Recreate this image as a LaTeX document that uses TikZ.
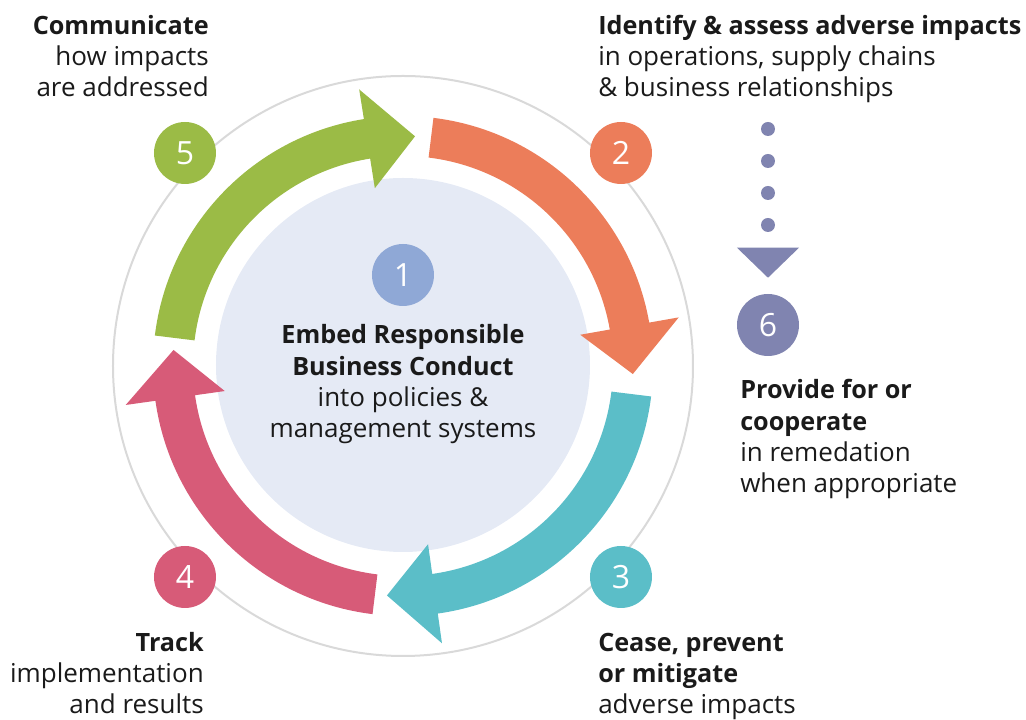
\documentclass[tikz,border=0pt]{standalone}
\usepackage{fontspec}
\setmainfont{Open Sans}
\usetikzlibrary{arrows.meta,calc,positioning}
\definecolor{stepgreen}{RGB}{155,187,70}
\definecolor{steporange}{RGB}{236,125,90}
\definecolor{stepteal}{RGB}{91,190,200}
\definecolor{steppink}{RGB}{215,91,120}
\definecolor{stepblue}{RGB}{143,168,214}
\definecolor{steppurple}{RGB}{128,132,176}
\definecolor{corefill}{RGB}{229,234,245}
\definecolor{ringgray}{RGB}{217,217,217}
\definecolor{textblack}{RGB}{26,26,26}
\newcommand{\headline}[1]{{\fontsize{18.9}{23.6}\selectfont\bfseries #1}}

\begin{document}
\begin{tikzpicture}[x=0.75pt,y=0.75pt]

\tikzset{
ring/.style={draw=ringgray,line width=1.5pt},
badge/.style={circle,minimum size=46.5pt,inner sep=0pt,text=white,font=\fontsize{24}{28}\selectfont},
lab/.style={inner sep=0pt,text=textblack,font=\fontsize{19.5}{23.6}\selectfont},
dotline/.style={draw=steppurple,line width=10.5pt,line cap=round,dash pattern=on 0pt off 24pt,shorten >=12pt,-{Triangle[width=46.5pt,length=22.5pt,line width=0pt]}}
}

\useasboundingbox (-403,-354) rectangle (623,366);

% Circles
\draw[ring] (0,0) circle[radius=290];
\fill[corefill] (0,1) circle[radius=187];

% Arrows
\fill[stepgreen] (173:250) arc[start angle=173, end angle=99, radius=250] -- (99:280) -- (87:230) -- (99:180) -- (99:210) arc[start angle=99, end angle=173, radius=210] -- cycle;
\fill[steporange] (83:250) arc[start angle=83, end angle=10, radius=250] -- (10:280) -- (-2:230) -- (10:180) -- (10:210) arc[start angle=10, end angle=83, radius=210] -- cycle;
\fill[stepteal] (-7:250) arc[start angle=-7, end angle=-82, radius=250] -- (-82:280) -- (-94:230) -- (-82:180) -- (-82:210) arc[start angle=-82, end angle=-7, radius=210] -- cycle;
\fill[steppink] (-97:250) arc[start angle=-97, end angle=-172, radius=250] -- (-172:280) -- (-184:230) -- (-172:180) -- (-172:210) arc[start angle=-172, end angle=-97, radius=210] -- cycle;

% Badges
\node[badge,fill=stepblue] (n1) at (0,91) {1};
\node[badge,fill=steporange] (n2) at (218,213) {2};
\node[badge,fill=stepteal] (n3) at (218,-211) {3};
\node[badge,fill=steppink] (n4) at (-218,-211) {4};
\node[badge,fill=stepgreen] (n5) at (-218,213) {5};
\node[badge,fill=steppurple] (n6) at (365,41) {6};

% Remedy link
\coordinate (dotstart) at (365,237);
\draw[dotline] (dotstart) -- (n6);

% Labels (base = last line)
\node[lab,align=center,anchor=base] (embed) at (0,-72) {\headline{Embed Responsible}\\\headline{Business Conduct}\\into policies \&\\management systems};
\node[lab,align=left,anchor=base west] (identify) at (195,269) {\headline{Identify \& assess adverse impacts}\\in operations, supply chains\\\& business relationships};
\node[lab,align=left,anchor=base west] (cease) at (195,-348) {\headline{Cease, prevent}\\\headline{or mitigate}\\adverse impacts};
\node[lab,align=right,anchor=base east] (track) at (-199,-348) {\headline{Track}\\implementation\\and results};
\node[lab,align=right,anchor=base east] (communicate) at (-194,269) {\headline{Communicate}\\how impacts\\are addressed};
\node[lab,align=left,anchor=base west] (provide) at (337,-127) {\headline{Provide for or}\\\headline{cooperate}\\in remedation\\when appropriate};

\end{tikzpicture}
\end{document}
